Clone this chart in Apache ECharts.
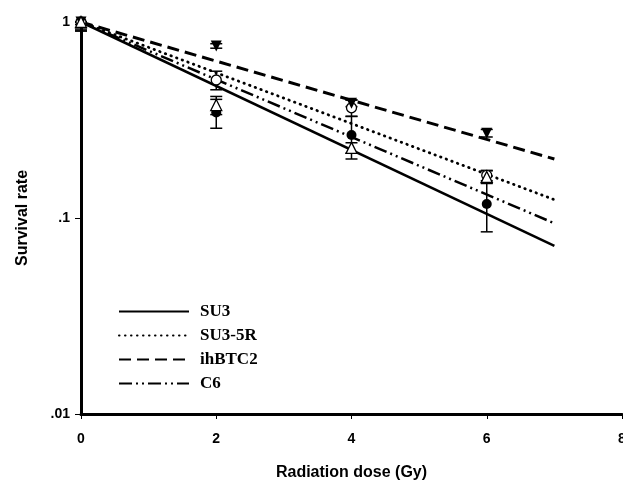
<!DOCTYPE html>
<html>
<head>
<meta charset="utf-8">
<script src="https://cdn.jsdelivr.net/npm/echarts@6/dist/echarts.min.js"></script>
<style>
  html, body { margin: 0; padding: 0; background: #fff; }
  #chart { width: 623px; height: 480px; }
</style>
</head>
<body>
<div id="chart"></div>
<script>
// survival curves after irradiation, log scale
var doses = [0, 2, 4, 6];
var fitX = [0, 7];

var su3 = [1, 0.345, 0.265, 0.118];
var su3Err = [0.1, 0.058, 0.065, 0.033];
var su3Fit = [1, 0.072];

var su35r = [1, 0.506, 0.365, 0.165];
var su35rErr = [0.1, 0.055, 0.035, 0.01];
var su35rFit = [1, 0.124];

var ihbtc2 = [1, 0.755, 0.385, 0.271];
var ihbtc2Err = [0.03, 0.02, 0.015, 0.012];
var ihbtc2Fit = [1, 0.2];

var c6 = [1, 0.377, 0.228, 0.162];
var c6Err = [0.08, 0.04, 0.014, 0.012];
var c6Fit = [1, 0.094];

var yTickLabels = { '1': '1', '0.1': '.1', '0.01': '.01' };

(function () {
  var chart = echarts.init(document.getElementById('chart'), null, { renderer: 'canvas' });
  var sans = '"Liberation Sans", Arial, sans-serif';
  var serif = '"Liberation Serif", "Times New Roman", serif';

  function pairs(xs, ys) {
    return xs.map(function (x, i) { return [x, ys[i]]; });
  }
  function errData(vals, errs) {
    return doses.map(function (x, i) {
      return [x, Math.max(vals[i] - errs[i], 0.011), Math.min(vals[i] + errs[i], 1)];
    });
  }
  function errSeries(vals, errs) {
    return {
      type: 'custom',
      name: 'err',
      data: errData(vals, errs),
      z: 3,
      silent: true,
      renderItem: function (params, api) {
        var lo = api.coord([api.value(0), api.value(1)]);
        var hi = api.coord([api.value(0), api.value(2)]);
        var w = 6;
        var st = { stroke: '#000', lineWidth: 1.5 };
        return {
          type: 'group',
          children: [
            { type: 'line', shape: { x1: lo[0], y1: lo[1], x2: hi[0], y2: hi[1] }, style: st },
            { type: 'line', shape: { x1: lo[0] - w, y1: lo[1], x2: lo[0] + w, y2: lo[1] }, style: st },
            { type: 'line', shape: { x1: hi[0] - w, y1: hi[1], x2: hi[0] + w, y2: hi[1] }, style: st }
          ]
        };
      }
    };
  }
  function fitSeries(name, ys, type, width, cap) {
    return {
      type: 'line',
      name: name,
      data: pairs(fitX, ys),
      symbol: 'none',
      z: 4,
      itemStyle: { color: '#000' },
      lineStyle: { color: '#000', width: width, type: type, cap: cap || 'butt' }
    };
  }

  chart.setOption({
    animation: false,
    backgroundColor: '#fff',
    grid: { left: 81, right: 1, top: 22, bottom: 66, outerBoundsMode: 'none', containLabel: false },
    legend: {
      data: ['SU3', 'SU3-5R', 'ihBTC2', 'C6'],
      orient: 'vertical',
      left: 113,
      top: 298,
      itemWidth: 70,
      itemHeight: 14,
      itemGap: 7,
      selectedMode: false,
      itemStyle: { opacity: 0 },
      textStyle: { fontFamily: serif, fontWeight: 'bold', fontSize: 17, color: '#000', padding: [0, 0, 0, 6] }
    },
    xAxis: {
      type: 'value',
      min: 0,
      max: 8,
      interval: 2,
      name: 'Radiation dose (Gy)',
      nameLocation: 'middle',
      nameGap: 51,
      nameTextStyle: { fontFamily: sans, fontWeight: 'bold', fontSize: 16, color: '#000' },
      axisLine: { lineStyle: { color: '#000', width: 3 } },
      axisTick: { show: true, length: 5, lineStyle: { color: '#000', width: 1 } },
      axisLabel: { color: '#000', fontFamily: sans, fontWeight: 'bold', fontSize: 14, margin: 18 },
      splitLine: { show: false }
    },
    yAxis: {
      type: 'log',
      logBase: 10,
      min: 0.01,
      max: 1,
      name: 'Survival rate',
      nameLocation: 'middle',
      nameGap: 50,
      nameTextStyle: { fontFamily: sans, fontWeight: 'bold', fontSize: 16, color: '#000' },
      axisLine: { show: true, lineStyle: { color: '#000', width: 3 } },
      axisTick: { show: true, length: 6, lineStyle: { color: '#000', width: 1 } },
      axisLabel: {
        color: '#000', fontFamily: sans, fontWeight: 'bold', fontSize: 14, margin: 11,
        formatter: function (v) {
          var k = String(+v.toPrecision(3));
          return yTickLabels[k] !== undefined ? yTickLabels[k] : '';
        }
      },
      splitLine: { show: false },
      minorTick: { show: false }
    },
    series: [
      fitSeries('SU3', su3Fit, 'solid', 2.5),
      fitSeries('SU3-5R', su35rFit, [0.5, 5.5], 2.8, 'round'),
      fitSeries('ihBTC2', ihbtc2Fit, [12, 6], 3),
      fitSeries('C6', c6Fit, [13, 4, 2, 4, 2, 4], 2.5),
      errSeries(su3, su3Err),
      errSeries(su35r, su35rErr),
      errSeries(ihbtc2, ihbtc2Err),
      errSeries(c6, c6Err),
      {
        type: 'scatter', name: 'SU3 pts', data: pairs(doses, su3), z: 5,
        symbol: 'circle', symbolSize: 10,
        itemStyle: { color: '#000', opacity: 1 }
      },
      {
        type: 'scatter', name: 'SU3-5R pts', data: pairs(doses, su35r), z: 5,
        symbol: 'circle', symbolSize: 10,
        itemStyle: { color: '#fff', borderColor: '#000', borderWidth: 1.3, opacity: 1 }
      },
      {
        type: 'scatter', name: 'ihBTC2 pts', data: pairs(doses, ihbtc2), z: 5,
        symbol: 'triangle', symbolSize: 11, symbolRotate: 180,
        itemStyle: { color: '#000', opacity: 1 }
      },
      {
        type: 'scatter', name: 'C6 pts', data: pairs(doses, c6), z: 6,
        symbol: 'triangle', symbolSize: 11,
        itemStyle: { color: '#fff', borderColor: '#000', borderWidth: 1.3, opacity: 1 }
      }
    ]
  });
  window.addEventListener('resize', function () { chart.resize(); });
})();
</script>
</body>
</html>
